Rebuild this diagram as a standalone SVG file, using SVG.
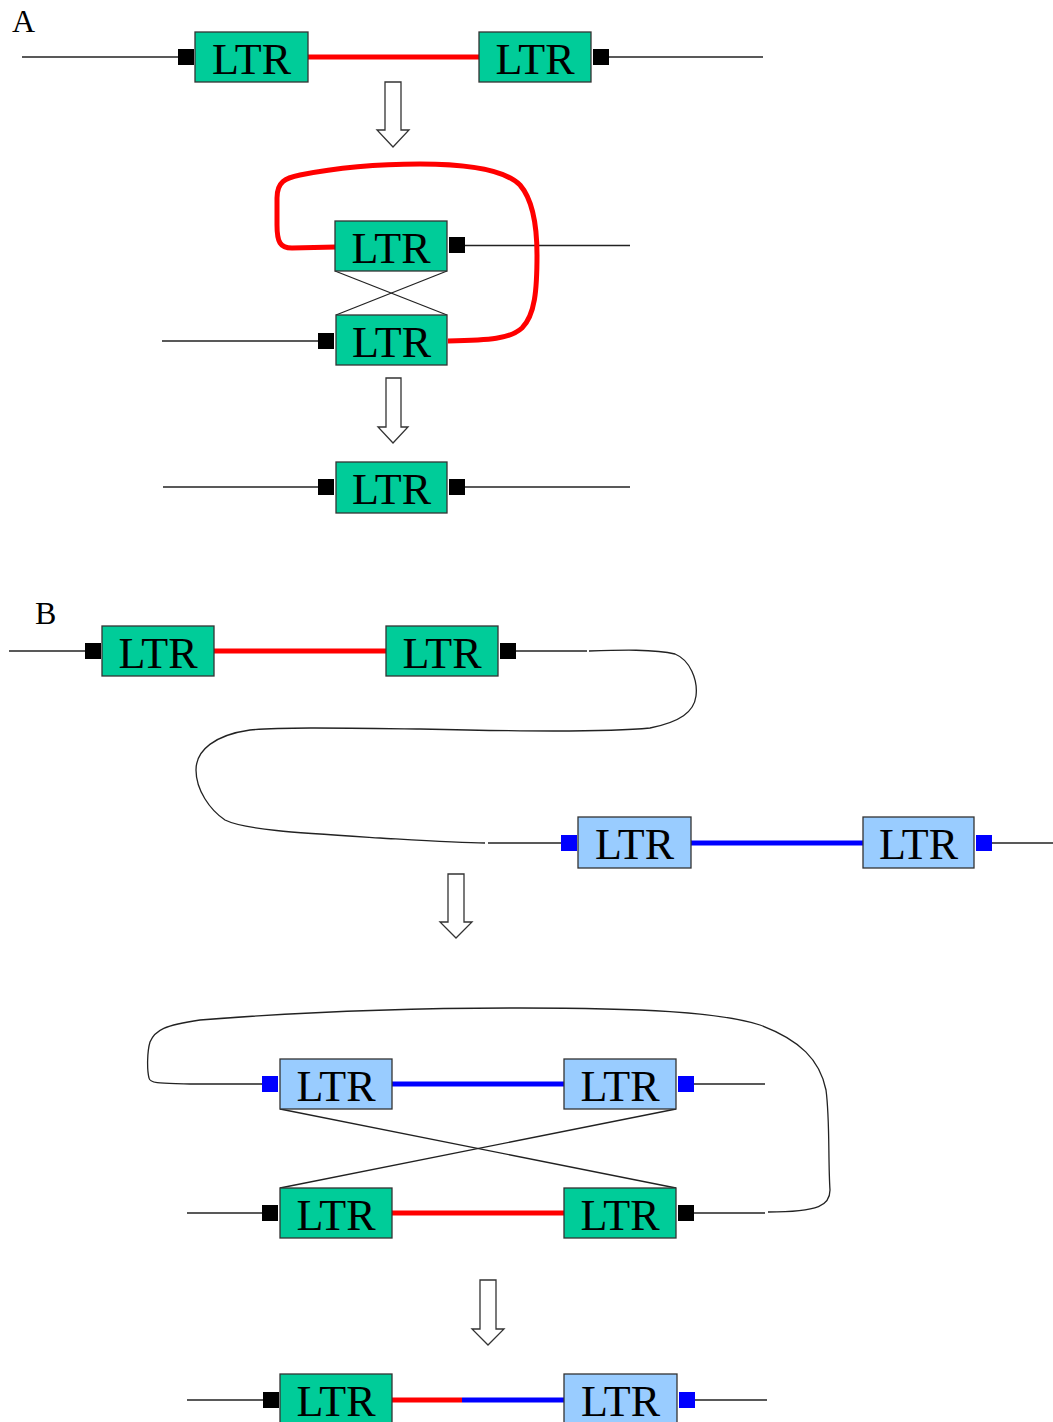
<svg xmlns="http://www.w3.org/2000/svg" width="1053" height="1422" viewBox="0 0 1053 1422">
<style>
.g{fill:#00CC99;stroke:#333;stroke-width:1.3}
.b{fill:#99CCFF;stroke:#333;stroke-width:1.3}
.t{font-family:"Liberation Serif","Times New Roman",serif;font-size:44px;fill:#000;text-anchor:middle}
.lbl{font-family:"Liberation Serif","Times New Roman",serif;font-size:32px;fill:#000}
.k{fill:#000}
.bs{fill:#0000FF}
.thin{stroke:#222;stroke-width:1.3;fill:none}
.red{stroke:#FF0000;stroke-width:5;fill:none}
.blue{stroke:#0000FF;stroke-width:5;fill:none}
.arr{fill:#fff;stroke:#333;stroke-width:1.3}
</style>
<rect width="1053" height="1422" fill="#fff"/>
<text class="lbl" x="12" y="32">A</text>
<text class="lbl" x="35" y="624">B</text>
<g id="connectors">
<line class="thin" x1="22" y1="57" x2="178" y2="57"/>
<line class="red" x1="308" y1="57" x2="479" y2="57"/>
<line class="thin" x1="609" y1="57" x2="763" y2="57"/>
<line class="thin" x1="465" y1="245.5" x2="630" y2="245.5"/>
<line class="thin" x1="162" y1="341" x2="318" y2="341"/>
<line class="thin" x1="335" y1="271" x2="447" y2="315"/>
<line class="thin" x1="447" y1="271" x2="336" y2="315"/>
<path class="red" d="M336,247 L292,248 C280,248 277,242 277,225 L277,198 C277,182 285,178 300,175 C340,167 380,164 420,164 C470,164 505,170 520,185 C533,200 537,225 537,255 C537,290 535,315 522,328 C510,339 490,340 448,341"/>
<line class="thin" x1="163" y1="487" x2="318" y2="487"/>
<line class="thin" x1="465" y1="487" x2="630" y2="487"/>
<line class="thin" x1="9" y1="651" x2="85" y2="651"/>
<line class="red" x1="214" y1="651" x2="386" y2="651"/>
<line class="thin" x1="516" y1="651" x2="587" y2="651"/>
<path class="thin" d="M589,651 C620,650 655,649 675,654 C690,660 698,680 696,696 C694,712 680,722 650,728 C600,733 500,731 420,729 C340,728 280,727 250,730 C215,735 196,750 196,770 C196,790 210,810 225,820 C245,830 300,833 380,838 C430,841 460,843 485,843"/>
<line class="thin" x1="488" y1="843" x2="561" y2="843"/>
<line class="blue" x1="691" y1="843" x2="863" y2="843"/>
<line class="thin" x1="992" y1="843" x2="1053" y2="843"/>
<path class="thin" d="M262,1084 L190,1084 C170,1083 150,1085 149,1078 C147,1070 147,1052 150,1042 C155,1030 165,1025 200,1020 C300,1012 400,1008 520,1008 C640,1008 720,1012 760,1025 C800,1040 820,1060 826,1090 C830,1120 828,1160 830,1190 C830,1205 820,1212 768,1212"/>
<line class="blue" x1="392" y1="1084" x2="564" y2="1084"/>
<line class="thin" x1="694" y1="1084" x2="765" y2="1084"/>
<line class="thin" x1="187" y1="1213" x2="262" y2="1213"/>
<line class="red" x1="392" y1="1213" x2="564" y2="1213"/>
<line class="thin" x1="694" y1="1213" x2="765" y2="1213"/>
<line class="thin" x1="280" y1="1109" x2="676" y2="1188"/>
<line class="thin" x1="676" y1="1109" x2="280" y2="1188"/>
<line class="thin" x1="187" y1="1400" x2="263" y2="1400"/>
<line class="red" x1="392" y1="1400" x2="462" y2="1400"/>
<line class="blue" x1="462" y1="1400" x2="564" y2="1400"/>
<line class="thin" x1="695" y1="1400" x2="767" y2="1400"/>
</g>
<g id="arrows">
<polygon class="arr" points="385,82 401,82 401,130 409,130 393,147 377,130 385,130"/>
<polygon class="arr" points="386,378 401,378 401,427 408,427 393,443 378,427 386,427"/>
<polygon class="arr" points="448,874 464,874 464,922 472,922 456,938 440,922 448,922"/>
<polygon class="arr" points="480,1280 496,1280 496,1329 504,1329 488,1345 472,1329 480,1329"/>
</g>
<g id="nodeA1"><rect class="k" x="178" y="49" width="16" height="16"/><rect class="g" x="195" y="32" width="113" height="50"/><text class="t" x="251.5" y="73.5">LTR</text></g>
<g id="nodeA2"><rect class="g" x="479" y="32" width="112" height="50"/><text class="t" x="535" y="73.5">LTR</text><rect class="k" x="593" y="49" width="16" height="16"/></g>
<g id="nodeA3"><rect class="g" x="335" y="221" width="112" height="50"/><text class="t" x="391" y="262.5">LTR</text><rect class="k" x="449" y="237" width="16" height="16"/></g>
<g id="nodeA4"><rect class="k" x="318" y="333" width="16" height="16"/><rect class="g" x="336" y="315" width="111" height="50"/><text class="t" x="391.5" y="356.5">LTR</text></g>
<g id="nodeA5"><rect class="k" x="318" y="479" width="16" height="16"/><rect class="g" x="336" y="462" width="111" height="51"/><text class="t" x="391.5" y="504">LTR</text><rect class="k" x="449" y="479" width="16" height="16"/></g>
<g id="nodeB1"><rect class="k" x="85" y="643" width="16" height="16"/><rect class="g" x="102" y="626" width="112" height="50"/><text class="t" x="158" y="667.5">LTR</text></g>
<g id="nodeB2"><rect class="g" x="386" y="626" width="112" height="50"/><text class="t" x="442" y="667.5">LTR</text><rect class="k" x="500" y="643" width="16" height="16"/></g>
<g id="nodeB3"><rect class="bs" x="561" y="835" width="16" height="16"/><rect class="b" x="578" y="817" width="113" height="51"/><text class="t" x="634.5" y="859">LTR</text></g>
<g id="nodeB4"><rect class="b" x="863" y="817" width="111" height="51"/><text class="t" x="918.5" y="859">LTR</text><rect class="bs" x="976" y="835" width="16" height="16"/></g>
<g id="nodeB5"><rect class="bs" x="262" y="1076" width="16" height="16"/><rect class="b" x="280" y="1059" width="112" height="50"/><text class="t" x="336" y="1100.5">LTR</text></g>
<g id="nodeB6"><rect class="b" x="564" y="1059" width="112" height="50"/><text class="t" x="620" y="1100.5">LTR</text><rect class="bs" x="678" y="1076" width="16" height="16"/></g>
<g id="nodeB7"><rect class="k" x="262" y="1205" width="16" height="16"/><rect class="g" x="280" y="1188" width="112" height="50"/><text class="t" x="336" y="1229.5">LTR</text></g>
<g id="nodeB8"><rect class="g" x="564" y="1188" width="112" height="50"/><text class="t" x="620" y="1229.5">LTR</text><rect class="k" x="678" y="1205" width="16" height="16"/></g>
<g id="nodeB9"><rect class="k" x="263" y="1392" width="16" height="16"/><rect class="g" x="280" y="1374" width="112" height="60"/><text class="t" x="336" y="1415.5">LTR</text></g>
<g id="nodeB10"><rect class="b" x="564" y="1374" width="113" height="60"/><text class="t" x="620.5" y="1415.5">LTR</text><rect class="bs" x="679" y="1392" width="16" height="16"/></g>
</svg>
